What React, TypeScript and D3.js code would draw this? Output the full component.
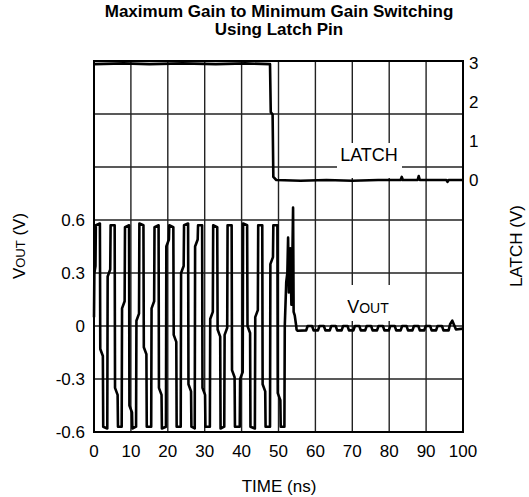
// App.tsx
// Scope capture: VOUT and LATCH vs time, max gain -> min gain switching
import React from "react";
import * as d3 from "d3";

type Pt = [number, number];

const timeTicks = [0, 10, 20, 30, 40, 50, 60, 70, 80, 90, 100];
const voutTicks = [-0.6, -0.3, 0, 0.3, 0.6];
const voutGrid = [-0.6, -0.3, 0, 0.3, 0.6, 0.9, 1.2, 1.5];
const latchTicks = [0, 1, 2, 3];

// LATCH pin voltage (V) vs time (ns)
const latchTrace: Pt[] = [
  [0, 2.97], [8, 2.99], [15, 2.97], [24, 2.99], [33, 2.97], [41, 2.99], [47.7, 2.97],
  [47.9, 1.74], [48.4, 1.68], [48.6, 0.08], [49.4, 0.0],
  [56, -0.02], [63, 0.0], [70, -0.02], [77, 0.0], [83.1, 0.0], [83.4, 0.08], [83.7, 0.0],
  [87.7, 0.0], [88.0, 0.1], [88.3, 0.0], [95.5, 0.0], [95.8, -0.05], [96.1, 0.0], [100, 0.0],
];

// Output voltage (V) vs time (ns)
const voutTrace: Pt[] = [
  [0, 0.05], [0.1, 0.3], [0.4, 0.34], [0.5, 0.57],
  [1.6, 0.58], [1.7, -0.13], [2.4, -0.17], [2.5, -0.57],
  [3.6, -0.58], [3.7, 0.28], [4.4, 0.32], [4.5, 0.57],
  [5.6, 0.57], [5.7, -0.35], [6.4, -0.39], [6.5, -0.57],
  [7.5, -0.57], [7.6, 0.1], [8.3, 0.14], [8.4, 0.56],
  [9.5, 0.57], [9.6, -0.45], [10.3, -0.49], [10.4, -0.58],
  [11.4, -0.57], [11.5, 0.03], [12.2, 0.07], [12.3, 0.58],
  [13.4, 0.57], [13.5, -0.12], [14.2, -0.16], [14.3, -0.57],
  [15.5, -0.57], [15.6, 0.1], [16.3, 0.14], [16.4, 0.56],
  [17.5, 0.57], [17.6, -0.35], [18.3, -0.39], [18.4, -0.58],
  [19.5, -0.57], [19.6, 0.45], [20.3, 0.49], [20.4, 0.57],
  [21.5, 0.56], [21.6, -0.05], [22.3, -0.09], [22.4, -0.57],
  [23.5, -0.57], [23.6, 0.3], [24.3, 0.34], [24.4, 0.57],
  [25.5, 0.58], [25.6, -0.33], [26.3, -0.37], [26.4, -0.57],
  [27.3, -0.58], [27.4, 0.45], [28.1, 0.49], [28.2, 0.57],
  [29.3, 0.57], [29.4, -0.35], [30.1, -0.39], [30.2, -0.57],
  [31.4, -0.57], [31.5, 0.04], [32.2, 0.08], [32.3, 0.57],
  [33.4, 0.56], [33.5, -0.02], [34.2, -0.06], [34.3, -0.58],
  [35.3, -0.57], [35.4, -0.05], [36.1, -0.01], [36.2, 0.57],
  [37.3, 0.57], [37.4, -0.25], [38.1, -0.29], [38.2, -0.57],
  [39.5, -0.57], [39.6, -0.3], [40.3, -0.26], [40.4, 0.58],
  [41.5, 0.57], [41.6, 0.0], [42.3, -0.04], [42.4, -0.57],
  [43.6, -0.58], [43.7, 0.05], [44.4, 0.09], [44.5, 0.57],
  [45.6, 0.57], [45.7, -0.33], [46.4, -0.37], [46.5, -0.57],
  [47.7, -0.57], [47.8, 0.35], [48.5, 0.39], [48.6, 0.57],
  [49.7, 0.57], [49.8, -0.38], [50.5, -0.42], [50.6, -0.57],
  [51.6, -0.57], [51.7, 0.0], [52.1, 0.25], [52.4, 0.3], [52.6, 0.5], [52.8, 0.19],
  [53.0, 0.3], [53.2, 0.44], [53.5, 0.12], [53.7, 0.3], [53.95, 0.67], [54.1, 0.08],
  [54.4, 0.06], [54.8, 0.0], [54.9, -0.02], [55.2, -0.027],
  [57.5, -0.025], [57.9, 0.0], [59.1, 0.0], [59.5, -0.025],
  [60.7, -0.025], [61.1, 0.0], [62.3, 0.0], [62.7, -0.025],
  [63.9, -0.025], [64.3, 0.0], [65.5, 0.0], [65.9, -0.025],
  [67.1, -0.025], [67.5, 0.0], [68.7, 0.0], [69.1, -0.025],
  [70.3, -0.025], [70.7, 0.0], [71.9, 0.0], [72.3, -0.025],
  [73.5, -0.025], [73.9, 0.0], [75.1, 0.0], [75.5, -0.025],
  [76.7, -0.025], [77.1, 0.0], [78.3, 0.0], [78.7, -0.025],
  [79.9, -0.025], [80.3, 0.0], [81.5, 0.0], [81.9, -0.025],
  [83.1, -0.025], [83.5, 0.0], [84.7, 0.0], [85.1, -0.025],
  [86.3, -0.025], [86.7, 0.0], [87.9, 0.0], [88.3, -0.025],
  [89.5, -0.025], [89.9, 0.0], [91.1, 0.0], [91.5, -0.025],
  [92.7, -0.025], [93.1, 0.0], [94.3, 0.0], [94.7, -0.025],
  [96.1, -0.025], [96.5, 0.01], [97.1, 0.03], [97.7, 0.0], [98.1, -0.02], [100, -0.015],
];

const W = 529, H = 497;
const left = 94, right = 463, top = 61, bottom = 432;
const FONT = "'Liberation Sans', Arial, Helvetica, sans-serif";

export default function App() {
  const x = d3.scaleLinear().domain([0, 100]).range([left, right]);
  const yV = d3.scaleLinear().domain([-0.6, 1.5]).range([bottom, top]);
  const yL = d3.scaleLinear().domain([-6.46, 3.05]).range([bottom, top]);

  const voutLine = d3.line<Pt>().x(d => x(d[0])).y(d => yV(d[1]));
  const latchLine = d3.line<Pt>().x(d => x(d[0])).y(d => yL(d[1]));

  return (
    <svg width={W} height={H} style={{ position: "absolute", left: 0, top: 0, background: "#fff" }}
      fontFamily={FONT}>
      {/* title */}
      <text x={279} y={17} textAnchor="middle" fontSize={17} fontWeight="bold">
        Maximum Gain to Minimum Gain Switching
      </text>
      <text x={279} y={35} textAnchor="middle" fontSize={17} fontWeight="bold">
        Using Latch Pin
      </text>

      {/* grid */}
      {timeTicks.map(t => (
        <line key={"v" + t} x1={x(t)} x2={x(t)} y1={top} y2={bottom} stroke="#222" strokeWidth={1.4} />
      ))}
      {voutGrid.map(v => (
        <line key={"h" + v} x1={left} x2={right} y1={yV(v)} y2={yV(v)} stroke="#222" strokeWidth={1.4} />
      ))}

      {/* label boxes knock out the grid */}
      <rect x={337} y={143} width={65} height={35} fill="#fff" />
      <rect x={338} y={285} width={60} height={36} fill="#fff" />

      {/* traces */}
      <path d={latchLine(latchTrace) ?? ""} fill="none" stroke="#000" strokeWidth={2.6} strokeLinejoin="round" />
      <path d={voutLine(voutTrace) ?? ""} fill="none" stroke="#000" strokeWidth={2.6} strokeLinejoin="round" />

      {/* frame */}
      <rect x={left} y={top} width={right - left} height={bottom - top} fill="none" stroke="#000" strokeWidth={2} />

      {/* in-plot labels */}
      <text x={369} y={161} textAnchor="middle" fontSize={18}>LATCH</text>
      <text x={368} y={313} textAnchor="middle" fontSize={18}>
        V<tspan fontSize={14}>OUT</tspan>
      </text>

      {/* left ticks */}
      {voutTicks.map(v => (
        <text key={"l" + v} x={85} y={yV(v)} dy="0.36em" textAnchor="end" fontSize={17}>
          {v === 0 ? "0" : v.toFixed(1)}
        </text>
      ))}
      {/* right ticks */}
      {latchTicks.map(v => (
        <text key={"r" + v} x={469} y={yL(v)} dy="0.36em" textAnchor="start" fontSize={17}>{v}</text>
      ))}
      {/* bottom ticks */}
      {timeTicks.map(t => (
        <text key={"b" + t} x={x(t)} y={457} textAnchor="middle" fontSize={17}>{t}</text>
      ))}

      {/* axis titles */}
      <text x={279} y={492} textAnchor="middle" fontSize={17}>TIME (ns)</text>
      <text transform="translate(25,246) rotate(-90)" textAnchor="middle" fontSize={17}>
        V<tspan fontSize={13}>OUT</tspan> (V)
      </text>
      <text transform="translate(522,246) rotate(-90)" textAnchor="middle" fontSize={17}>LATCH (V)</text>
    </svg>
  );
}
